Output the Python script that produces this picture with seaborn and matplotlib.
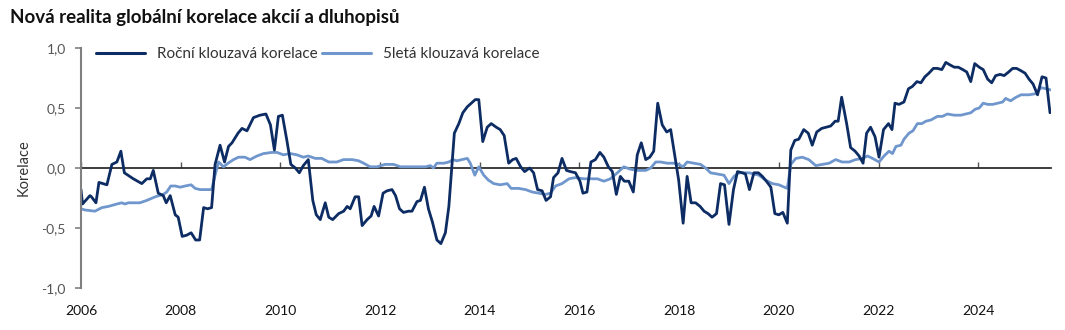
import numpy as np
import pandas as pd
import matplotlib
matplotlib.use("Agg")
import matplotlib.pyplot as plt
import seaborn as sns
from matplotlib.lines import Line2D

title = "Nová realita globální korelace akcií a dluhopisů"
series_names = ["Roční klouzavá korelace", "5letá klouzavá korelace"]
y_label = "Korelace"
x_ticks = [2006, 2008, 2010, 2012, 2014, 2016, 2018, 2020, 2022, 2024]
y_ticks = [-1.0, -0.5, 0.0, 0.5, 1.0]

annual_t = [2006.00, 2006.03, 2006.18, 2006.21, 2006.30, 2006.36, 2006.52, 2006.62, 2006.72, 2006.80,
            2006.87, 2007.05, 2007.22, 2007.32, 2007.39, 2007.45, 2007.55, 2007.65, 2007.71, 2007.79,
            2007.89, 2007.95, 2008.03, 2008.12, 2008.21, 2008.30, 2008.38, 2008.46, 2008.54, 2008.62,
            2008.69, 2008.79, 2008.88, 2008.96, 2009.03, 2009.15, 2009.23, 2009.33, 2009.46, 2009.59,
            2009.71, 2009.80, 2009.88, 2009.96, 2010.04, 2010.13, 2010.21, 2010.30, 2010.38, 2010.46,
            2010.56, 2010.65, 2010.72, 2010.80, 2010.90, 2010.97, 2011.05, 2011.17, 2011.27, 2011.34,
            2011.40, 2011.50, 2011.57, 2011.64, 2011.74, 2011.82, 2011.88, 2011.97, 2012.06, 2012.14,
            2012.24, 2012.31, 2012.39, 2012.47, 2012.57, 2012.64, 2012.74, 2012.81, 2012.89, 2012.97,
            2013.05, 2013.14, 2013.22, 2013.31, 2013.38, 2013.49, 2013.58, 2013.66, 2013.75, 2013.83,
            2013.91, 2013.98, 2014.06, 2014.15, 2014.23, 2014.33, 2014.41, 2014.49, 2014.58, 2014.66,
            2014.73, 2014.82, 2014.90, 2015.00, 2015.08, 2015.16, 2015.25, 2015.33, 2015.42, 2015.48,
            2015.57, 2015.65, 2015.74, 2015.82, 2015.92, 2016.01, 2016.07, 2016.15, 2016.23, 2016.32,
            2016.41, 2016.49, 2016.58, 2016.66, 2016.74, 2016.82, 2016.90, 2016.99, 2017.08, 2017.16,
            2017.24, 2017.33, 2017.41, 2017.49, 2017.57, 2017.66, 2017.75, 2017.83, 2017.91, 2017.99,
            2018.08, 2018.16, 2018.24, 2018.33, 2018.42, 2018.50, 2018.58, 2018.66, 2018.75, 2018.83,
            2018.91, 2019.00, 2019.09, 2019.17, 2019.27, 2019.33, 2019.41, 2019.50, 2019.59, 2019.67,
            2019.75, 2019.84, 2019.92, 2020.00, 2020.08, 2020.17, 2020.24, 2020.32, 2020.40, 2020.50,
            2020.59, 2020.67, 2020.76, 2020.86, 2020.95, 2021.04, 2021.13, 2021.19, 2021.26, 2021.36,
            2021.44, 2021.53, 2021.61, 2021.69, 2021.76, 2021.84, 2021.93, 2022.01, 2022.10, 2022.20,
            2022.27, 2022.33, 2022.41, 2022.51, 2022.60, 2022.68, 2022.77, 2022.85, 2022.93, 2023.01,
            2023.10, 2023.18, 2023.27, 2023.35, 2023.43, 2023.52, 2023.60, 2023.69, 2023.77, 2023.85,
            2023.93, 2024.02, 2024.10, 2024.19, 2024.27, 2024.35, 2024.44, 2024.52, 2024.61, 2024.69,
            2024.77, 2024.86, 2024.94, 2025.02, 2025.10, 2025.19, 2025.28, 2025.36, 2025.44]
annual_v = [-0.18, -0.30, -0.23, -0.24, -0.29, -0.12, -0.14, 0.03, 0.05, 0.14,
            -0.04, -0.09, -0.13, -0.09, -0.09, -0.02, -0.21, -0.23, -0.29, -0.23,
            -0.39, -0.41, -0.57, -0.56, -0.54, -0.60, -0.60, -0.33, -0.34, -0.33,
            0.03, 0.19, 0.05, 0.18, 0.21, 0.29, 0.33, 0.31, 0.42, 0.44,
            0.45, 0.36, 0.15, 0.43, 0.44, 0.23, 0.03, 0.00, -0.04, 0.02,
            0.07, -0.27, -0.39, -0.43, -0.29, -0.41, -0.43, -0.38, -0.36, -0.32,
            -0.34, -0.24, -0.24, -0.48, -0.43, -0.40, -0.32, -0.40, -0.21, -0.19,
            -0.18, -0.23, -0.34, -0.37, -0.36, -0.36, -0.28, -0.27, -0.16, -0.34,
            -0.45, -0.60, -0.63, -0.54, -0.32, 0.29, 0.37, 0.46, 0.51, 0.54,
            0.57, 0.57, 0.22, 0.34, 0.37, 0.34, 0.32, 0.27, 0.04, 0.07,
            0.08, 0.01, -0.03, 0.00, -0.04, -0.18, -0.19, -0.27, -0.24, -0.08,
            -0.04, 0.08, -0.02, -0.03, -0.04, -0.11, -0.21, -0.20, 0.05, 0.07,
            0.13, 0.09, 0.01, -0.03, -0.22, -0.07, -0.11, -0.11, -0.20, 0.11,
            0.21, 0.07, 0.09, 0.14, 0.54, 0.36, 0.30, 0.32, 0.11, -0.10,
            -0.46, -0.07, -0.29, -0.29, -0.32, -0.36, -0.38, -0.41, -0.38, -0.13,
            -0.14, -0.47, -0.18, -0.03, -0.04, -0.05, -0.18, -0.04, -0.04, -0.07,
            -0.11, -0.16, -0.38, -0.39, -0.37, -0.46, 0.15, 0.23, 0.24, 0.32,
            0.29, 0.19, 0.30, 0.33, 0.34, 0.35, 0.39, 0.39, 0.59, 0.37,
            0.17, 0.14, 0.10, 0.04, 0.29, 0.34, 0.26, 0.09, 0.32, 0.37,
            0.32, 0.54, 0.53, 0.55, 0.66, 0.68, 0.72, 0.71, 0.76, 0.79,
            0.83, 0.83, 0.82, 0.88, 0.86, 0.84, 0.84, 0.82, 0.80, 0.72,
            0.87, 0.84, 0.82, 0.74, 0.71, 0.77, 0.78, 0.77, 0.80, 0.83,
            0.83, 0.81, 0.79, 0.74, 0.70, 0.61, 0.76, 0.75, 0.46]

five_t = [2006.00, 2006.08, 2006.28, 2006.42, 2006.55, 2006.72, 2006.82, 2006.88, 2006.95, 2007.05,
          2007.18, 2007.32, 2007.49, 2007.65, 2007.72, 2007.80, 2007.89, 2007.99, 2008.09, 2008.21,
          2008.29, 2008.39, 2008.52, 2008.62, 2008.69, 2008.76, 2008.86, 2008.95, 2009.06, 2009.16,
          2009.29, 2009.39, 2009.53, 2009.66, 2009.83, 2009.93, 2010.06, 2010.20, 2010.33, 2010.46,
          2010.56, 2010.70, 2010.83, 2010.97, 2011.13, 2011.27, 2011.44, 2011.57, 2011.67, 2011.80,
          2011.94, 2012.10, 2012.27, 2012.41, 2012.57, 2012.71, 2012.91, 2013.01, 2013.07, 2013.14,
          2013.28, 2013.38, 2013.46, 2013.54, 2013.64, 2013.75, 2013.81, 2013.90, 2013.98, 2014.08,
          2014.17, 2014.28, 2014.41, 2014.55, 2014.63, 2014.78, 2014.92, 2015.05, 2015.18, 2015.32,
          2015.42, 2015.52, 2015.65, 2015.79, 2015.92, 2016.09, 2016.22, 2016.36, 2016.49, 2016.62,
          2016.76, 2016.89, 2017.02, 2017.16, 2017.33, 2017.43, 2017.53, 2017.63, 2017.76, 2017.89,
          2017.99, 2018.08, 2018.16, 2018.30, 2018.43, 2018.53, 2018.63, 2018.77, 2018.90, 2019.00,
          2019.10, 2019.20, 2019.27, 2019.40, 2019.50, 2019.60, 2019.73, 2019.87, 2020.00, 2020.17,
          2020.24, 2020.34, 2020.47, 2020.60, 2020.74, 2020.87, 2021.01, 2021.14, 2021.27, 2021.41,
          2021.54, 2021.68, 2021.78, 2021.88, 2022.01, 2022.11, 2022.21, 2022.28, 2022.35, 2022.45,
          2022.51, 2022.61, 2022.69, 2022.78, 2022.87, 2022.95, 2023.05, 2023.18, 2023.28, 2023.38,
          2023.52, 2023.65, 2023.75, 2023.85, 2023.94, 2024.02, 2024.10, 2024.19, 2024.29, 2024.39,
          2024.49, 2024.55, 2024.65, 2024.76, 2024.86, 2025.02, 2025.16, 2025.26, 2025.36, 2025.46]
five_v = [-0.34, -0.35, -0.36, -0.33, -0.32, -0.30, -0.29, -0.30, -0.29, -0.29,
          -0.29, -0.27, -0.24, -0.22, -0.20, -0.15, -0.15, -0.16, -0.15, -0.14,
          -0.17, -0.18, -0.18, -0.18, -0.06, 0.05, 0.01, 0.04, 0.07, 0.09,
          0.09, 0.07, 0.10, 0.12, 0.13, 0.13, 0.11, 0.12, 0.11, 0.09,
          0.10, 0.08, 0.08, 0.05, 0.05, 0.07, 0.07, 0.06, 0.04, 0.01,
          0.01, 0.03, 0.03, 0.01, 0.01, 0.01, 0.01, 0.02, 0.00, 0.04,
          0.04, 0.05, 0.07, 0.06, 0.07, 0.08, 0.04, -0.06, 0.01, -0.06,
          -0.10, -0.13, -0.14, -0.13, -0.17, -0.17, -0.18, -0.20, -0.21, -0.22,
          -0.21, -0.15, -0.13, -0.09, -0.08, -0.09, -0.09, -0.09, -0.11, -0.09,
          -0.04, 0.01, -0.01, -0.02, -0.02, 0.00, 0.05, 0.05, 0.04, 0.04,
          0.03, 0.01, 0.05, 0.04, 0.03, 0.00, -0.04, -0.05, -0.06, -0.13,
          -0.07, -0.04, -0.04, -0.04, -0.05, -0.06, -0.10, -0.13, -0.14, -0.17,
          0.03, 0.08, 0.09, 0.07, 0.02, 0.03, 0.04, 0.07, 0.05, 0.05,
          0.07, 0.08, 0.10, 0.08, 0.05, 0.10, 0.14, 0.12, 0.18, 0.19,
          0.24, 0.29, 0.31, 0.37, 0.37, 0.39, 0.40, 0.43, 0.43, 0.45,
          0.44, 0.44, 0.45, 0.46, 0.49, 0.50, 0.54, 0.53, 0.53, 0.54,
          0.55, 0.58, 0.56, 0.59, 0.61, 0.61, 0.62, 0.67, 0.66, 0.65]

df = pd.concat([
    pd.DataFrame({"t": annual_t, "v": annual_v, "s": series_names[0]}),
    pd.DataFrame({"t": five_t, "v": five_v, "s": series_names[1]}),
], ignore_index=True)

sns.set_theme(style="white")
plt.rcParams['font.family'] = ['Lato', 'DejaVu Sans']

dark = "#0c2c63"
light = "#7097cd"
palette = {series_names[0]: dark, series_names[1]: light}

fig = plt.figure(figsize=(10.65, 3.3), dpi=100)
ax = fig.add_axes([81 / 1065, 42 / 330, (1051 - 81) / 1065, 240 / 330])

# zero line with small downward ticks
sec = ax.secondary_xaxis(0.5)
sec.set_xticks(x_ticks)
sec.set_xticklabels([])
sec.tick_params(axis="x", direction="out", length=4, width=1, color="#555555",
                labelbottom=False, labeltop=False)
sec.spines["bottom"].set_color("black")
sec.spines["bottom"].set_linewidth(1.0)

# light series first so the dark one sits above it
sns.lineplot(data=df, x="t", y="v", hue="s", hue_order=series_names[::-1], palette=palette,
             linewidth=2.0, ax=ax, legend=False, sort=False, estimator=None)

ax.set_xlim(2006, 2025.46)
ax.set_ylim(-1.0, 1.0)

# y axis
ax.set_yticks(y_ticks)
ax.set_yticklabels([f"{v:.1f}".replace(".", ",") for v in y_ticks], color="#555555", fontsize=10)
ax.tick_params(axis="y", direction="out", length=4, width=1.2, color="#808080", pad=7, left=True)
ax.spines["left"].set_color("#808080")
ax.spines["left"].set_linewidth(1.5)
for s in ["top", "right", "bottom"]:
    ax.spines[s].set_visible(False)
ax.set_ylabel(y_label, fontsize=10.5, color="#333333")
ax.yaxis.set_label_coords(-50 / 970, 0.5)

# x labels at bottom
ax.set_xticks(x_ticks)
ax.set_xticklabels([str(x) for x in x_ticks], fontsize=10, color="#111111")
ax.tick_params(axis="x", length=0, pad=12)
ax.set_xlabel("")

handles = [Line2D([], [], color=dark, lw=2.2), Line2D([], [], color=light, lw=2.2)]
fig.legend(handles, series_names, loc="center left", bbox_to_anchor=(82 / 1065, 1 - 54 / 330),
           ncol=2, frameon=False, fontsize=11, handlelength=3.2, handletextpad=0.8,
           columnspacing=0.3, labelcolor="#333333")

fig.text(10 / 1065, 1 - 17 / 330, title, fontsize=13.5, fontweight="bold", va="center", ha="left",
         color="#111111")

fig.savefig("out.png", dpi=100)
